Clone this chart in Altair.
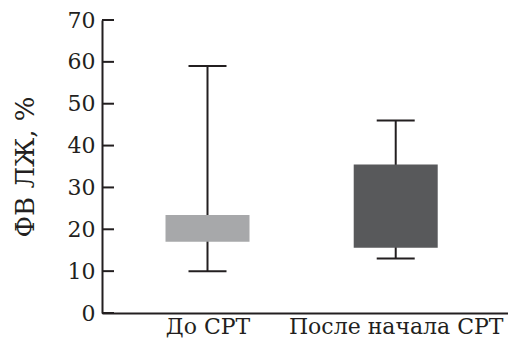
import altair as alt
import pandas as pd

categories = ["До СРТ", "После начала СРТ"]
positions = [1, 2]
whisker_low = [10, 13]
box_low = [17, 15.6]
box_high = [23.4, 35.5]
whisker_high = [59, 46]
box_colors = ["#a7a8aa", "#58595b"]
y_ticks = [0, 10, 20, 30, 40, 50, 60, 70]

df = pd.DataFrame({
    "cat": categories,
    "pos": positions,
    "wlo": whisker_low,
    "blo": box_low,
    "bhi": box_high,
    "whi": whisker_high,
    "color": box_colors,
})
ticks_df = pd.DataFrame({"v": y_ticks})

FONT = "DejaVu Serif"
DARK = "#231f20"

label_expr = "datum.value == 1 ? '%s' : datum.value == 2 ? '%s' : ''" % (categories[0], categories[1])

xscale = alt.Scale(domain=[0.466, 2.570], nice=False, zero=False)
yscale = alt.Scale(domain=[0, 70], nice=False)

x_enc = alt.X("pos:Q", scale=xscale,
              axis=alt.Axis(values=positions, labelExpr=label_expr, title=None, grid=False,
                            tickSize=0, labelFont=FONT, labelFontSize=22, labelColor=DARK,
                            labelPadding=3, labelLimit=400, domainColor=DARK, domainWidth=2))

y_axis = alt.Axis(values=y_ticks, title="ФВ ЛЖ, %", grid=False, tickSize=0,
                  labelFont=FONT, labelFontSize=22, labelColor=DARK, labelPadding=7,
                  titleFont=FONT, titleFontSize=26, titleFontWeight="normal", titleColor=DARK,
                  titlePadding=29, domainColor=DARK, domainWidth=2)

base = alt.Chart(df)

whisker = base.mark_rule(color=DARK, strokeWidth=2).encode(
    x=x_enc,
    y=alt.Y("wlo:Q", scale=yscale, axis=y_axis),
    y2="whi:Q",
)
box = base.mark_bar(size=84).encode(
    x="pos:Q",
    y="blo:Q",
    y2="bhi:Q",
    color=alt.Color("color:N", scale=None),
)
cap_lo = base.mark_tick(orient="horizontal", size=38, thickness=2, color=DARK, opacity=1).encode(
    x="pos:Q", y="wlo:Q")
cap_hi = base.mark_tick(orient="horizontal", size=38, thickness=2, color=DARK, opacity=1).encode(
    x="pos:Q", y="whi:Q")
yticks = alt.Chart(ticks_df).mark_rule(color=DARK, strokeWidth=2).encode(
    x=alt.value(0), x2=alt.value(12), y="v:Q")

chart = alt.layer(whisker, box, cap_lo, cap_hi, yticks).properties(
    width=406, height=293,
    autosize=alt.AutoSizeParams(type="none"),
    padding={"left": 94, "top": 12, "right": 0, "bottom": 27},
).configure(background="white", font=FONT, view=alt.ViewConfig(stroke=None))

chart.save("out.html", embed_options={"renderer": "svg", "actions": False})
